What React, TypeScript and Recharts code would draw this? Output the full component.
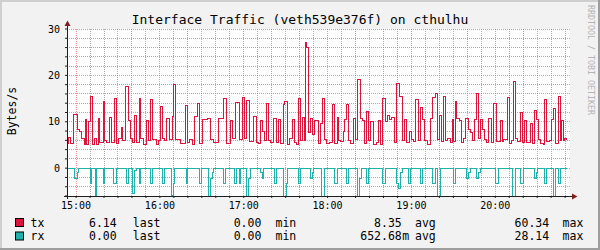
import { LineChart, Line, XAxis, YAxis, CartesianGrid } from 'recharts'

// time = minutes since 14:00, values in bytes/s (rx drawn negative)
const txTime = [
  53.5, 54.4, 56.1, 58.0, 60.9, 62.3, 64.2, 65.7, 66.6, 67.6,
  69.0, 70.5, 71.4, 73.3, 74.8, 76.2, 77.1, 79.5, 80.5, 81.9,
  83.8, 85.5, 87.2, 89.1, 90.5, 92.4, 93.4, 95.2, 97.4, 98.6,
  100.5, 101.5, 102.9, 105.3, 106.3, 108.1, 110.1, 112.0, 113.4, 114.9,
  117.2, 118.7, 120.1, 121.5, 123.0, 124.9, 127.2, 128.7, 129.6, 131.5,
  134.4, 138.0, 139.6, 141.5, 143.2, 144.9, 146.8, 148.2, 150.2, 154.0,
  155.9, 158.3, 162.1, 165.4, 167.8, 170.2, 172.1, 174.0, 176.9, 178.8,
  180.7, 182.2, 184.0, 186.9, 188.8, 190.7, 192.1, 193.6, 195.0, 196.4,
  197.4, 199.3, 201.2, 203.1, 204.9, 206.5, 208.4, 209.3, 211.2, 213.1,
  214.6, 216.0, 217.9, 219.3, 220.8, 222.2, 223.2, 224.1, 225.1, 226.5,
  228.0, 228.9, 230.3, 233.7, 235.1, 236.5, 238.0, 239.4, 241.3, 243.2,
  245.1, 247.0, 248.0, 249.4, 251.3, 252.3, 253.7, 254.7, 256.1, 258.5,
  259.9, 261.4, 263.3, 264.7, 266.1, 268.0, 269.0, 270.9, 272.8, 274.7,
  276.2, 278.1, 279.5, 281.4, 282.8, 284.3, 285.7, 287.6, 289.5, 291.4,
  293.3, 294.8, 296.7, 298.6, 300.0, 301.5, 302.9, 304.8, 306.7, 308.1,
  309.6, 311.5, 313.4, 315.3, 317.2, 318.6, 320.1, 321.5, 322.9, 324.4,
  325.8, 327.7, 329.2, 330.1, 331.3, 332.5, 334.4, 335.8, 337.3, 338.7,
  341.1, 342.5, 344.0, 345.4, 346.3, 348.3, 349.2, 350.6, 352.5, 354.0,
  355.4, 357.3, 358.8, 361.1, 363.6, 365.0, 365.9, 368.8, 370.2, 371.6,
  373.1, 374.5, 376.0, 377.9, 379.8, 381.2, 382.6, 385.0, 386.4, 387.9,
  389.3, 390.7, 392.6, 394.6, 395.5, 396.9, 398.9, 400.3, 401.7, 403.2,
  404.6, 405.5, 406.5, 407.6, 408.9, 409.8, 411.3,
]
const txValue = [
  5.3, 6.6, 5.3, 11.6, 8.4, 7.9, 6.5, 5.0, 10.5, 5.0,
  10.0, 15.5, 5.0, 6.5, 5.0, 10.8, 5.5, 14.3, 6.0, 5.5,
  11.0, 5.5, 15.0, 5.3, 6.4, 8.8, 6.0, 17.7, 10.3, 6.5,
  5.5, 11.4, 5.5, 15.0, 6.5, 5.2, 10.2, 6.0, 14.7, 6.2,
  5.0, 5.9, 13.2, 6.4, 6.0, 10.7, 6.2, 11.2, 18.1, 6.2,
  5.3, 13.5, 5.5, 6.1, 5.2, 11.2, 14.0, 5.3, 10.5, 10.8,
  6.2, 5.5, 10.8, 15.0, 5.3, 10.2, 6.4, 14.2, 6.2, 15.2,
  6.3, 14.5, 5.8, 11.1, 5.6, 5.3, 10.2, 7.8, 6.0, 14.0,
  6.0, 5.6, 10.8, 5.5, 10.5, 5.3, 13.7, 14.4, 5.0, 6.4,
  10.4, 5.5, 5.0, 15.1, 6.0, 10.9, 6.0, 27.1, 26.1, 7.6,
  10.8, 7.3, 10.2, 5.3, 9.6, 15.1, 6.2, 5.3, 5.6, 13.7,
  5.3, 10.9, 6.0, 5.7, 7.8, 10.5, 13.7, 6.0, 5.4, 10.8,
  6.1, 19.2, 10.8, 10.2, 5.4, 12.2, 6.0, 10.0, 5.1, 5.5,
  10.2, 5.2, 15.1, 10.0, 11.3, 10.5, 11.0, 5.6, 18.3, 15.5,
  6.0, 10.5, 5.5, 8.0, 6.1, 5.7, 14.9, 5.9, 13.1, 10.4,
  5.9, 5.2, 10.7, 15.2, 16.1, 6.2, 11.3, 5.8, 15.4, 5.9,
  6.3, 5.5, 10.4, 5.8, 14.3, 10.8, 10.2, 5.5, 6.4, 10.8,
  8.4, 7.6, 5.9, 10.5, 16.1, 6.3, 10.5, 8.4, 6.2, 5.5,
  10.8, 5.5, 14.0, 5.8, 10.3, 5.7, 6.2, 15.2, 5.3, 6.0,
  18.7, 6.4, 5.8, 12.0, 5.5, 10.2, 5.5, 9.6, 5.3, 12.5,
  10.4, 6.1, 5.3, 5.1, 14.8, 5.8, 6.0, 10.5, 12.8, 5.4,
  5.3, 15.5, 6.0, 10.3, 6.0, 6.4, 6.14,
]

const rxTime = [
  53.5, 59.2, 60.9, 61.9, 70.0, 70.9, 73.6, 74.8, 79.5, 80.5,
  86.7, 89.1, 95.8, 97.2, 100.1, 101.5, 102.9, 105.3, 106.3, 113.0,
  114.9, 122.0, 123.5, 128.2, 129.7, 130.6, 138.7, 139.7, 148.3, 149.7,
  155.0, 156.4, 157.3, 158.3, 165.5, 166.9, 173.1, 174.5, 176.9, 177.9,
  181.7, 183.6, 184.6, 192.1, 193.1, 194.0, 201.7, 203.6, 208.4, 210.3,
  211.2, 219.3, 220.8, 228.0, 229.4, 229.9, 235.6, 237.5, 245.1, 247.0,
  253.7, 254.7, 261.4, 262.8, 264.2, 268.0, 269.5, 279.5, 281.4, 289.5,
  291.0, 292.4, 293.8, 297.9, 299.0, 306.7, 308.1, 315.3, 317.2, 318.6,
  320.5, 330.0, 331.2, 339.7, 341.1, 342.1, 346.8, 348.3, 349.7, 360.2,
  362.1, 372.6, 374.5, 378.3, 380.2, 387.9, 389.3, 390.3, 395.5, 396.9,
  401.7, 403.2, 405.5, 406.5, 411.3,
]
const rxValue = [
  0, -2.2, -1.0, 0, -3.3, 0, -6, 0, -3.3, 0,
  -3.3, 0, -3.3, 0, -5.5, -0.6, 0, -3.3, 0, -3.3,
  0, -3.3, 0, -5.8, -3.3, 0, -3.3, 0, -3.3, 0,
  -6, -2.2, -1.0, 0, -3.3, 0, -3.3, 0, -3.3, 0,
  -6, -2.2, 0, -1.0, -2.2, 0, -3.3, 0, -6, -3.3,
  0, -3.3, 0, -2.2, -1.0, 0, -6, 0, -3.3, 0,
  -3.3, 0, -6, -2.2, 0, -3.3, 0, -3.3, 0, -3.3,
  -4.4, -1.0, 0, -3.3, 0, -3.3, 0, -3.3, 0, -6,
  0, -3.3, 0, -2.2, -1.0, 0, -2.2, -1.0, 0, -3.3,
  0, -6, 0, -3.3, 0, -2.2, -1.0, 0, -3.3, 0,
  -6, 0, -3.3, 0, 0,
]

const xTicks = [
  60, 70, 80, 90, 100, 110, 120, 130, 140, 150, 160, 170, 180, 190, 200, 210, 220, 230,
  240, 250, 260, 270, 280, 290, 300, 310, 320, 330, 340, 350, 360, 370, 380, 390, 400, 410,
]
const xMajor = [60, 90, 120, 150, 180, 210, 240, 270, 300, 330, 360, 390]
const hourTicks = [60, 120, 180, 240, 300, 360]
const hourLabels = ['15:00', '16:00', '17:00', '18:00', '19:00', '20:00']

const yTicks = [-6, -4, -2, 0, 2, 4, 6, 8, 10, 12, 14, 16, 18, 20, 22, 24, 26, 28, 30]
const yMajor = [0, 10, 20, 30]

const series = [
  { name: 'tx', color: '#dc143c', last: '6.14', min: '0.00', avg: '8.35', avgUnit: '', max: '60.34' },
  { name: 'rx', color: '#20b2aa', last: '0.00', min: '0.00', avg: '652.68', avgUnit: 'm', max: '28.14' },
]

const FONT = '"DejaVu Sans Mono", monospace'
const GRID = 'rgba(143,143,143,0.75)'
const MGRID = 'rgba(222,79,79,0.6)'
const ARROW = '#801f1f'
const AXIS = '#1f1f1f'

const txData = txTime.map((t, i) => ({ t, v: txValue[i] }))
const rxData = rxTime.map((t, i) => ({ t, v: rxValue[i] }))
const xMinor = xTicks.filter((t) => !xMajor.includes(t))
const yMinor = yTicks.filter((t) => !yMajor.includes(t))

const fmtX = (v: number) => {
  const i = hourTicks.indexOf(v)
  return i >= 0 ? hourLabels[i] : ''
}
const fmtY = (v: number) => (yMajor.includes(v) ? String(v) : '')

export default function App() {
  return (
    <div style={{ position: 'absolute', left: 0, top: 0, width: 600, height: 250, background: '#f2f2f2', fontFamily: FONT }}>
      <LineChart width={600} height={250} data={txData} margin={{ top: 29, right: 30, bottom: 34, left: 0 }}>
        <CartesianGrid
          fill="#ffffff"
          fillOpacity={1}
          stroke={GRID}
          strokeDasharray="1 1"
          shapeRendering="crispEdges"
          horizontalValues={yMinor}
          verticalValues={xMinor}
        />
        <CartesianGrid
          stroke={MGRID}
          strokeDasharray="1 1"
          shapeRendering="crispEdges"
          horizontalValues={yMajor}
          verticalValues={xMajor}
        />
        <XAxis
          dataKey="t"
          type="number"
          domain={[53.5, 413.5]}
          ticks={xTicks}
          interval={0}
          allowDataOverflow
          tickFormatter={fmtX}
          axisLine={false}
          tickLine={{ stroke: AXIS }}
          tickSize={2}
          tickMargin={4}
          height={20}
          tick={{ fontSize: 10, fill: '#000', fontFamily: FONT }}
        />
        <YAxis
          type="number"
          domain={[-6, 30]}
          ticks={yTicks}
          interval={0}
          allowDataOverflow
          tickFormatter={fmtY}
          axisLine={false}
          tickLine={{ stroke: AXIS }}
          tickSize={2}
          tickMargin={5}
          width={67}
          tick={{ fontSize: 10, fill: '#000', fontFamily: FONT }}
        />
        <Line
          data={txData}
          dataKey="v"
          type="stepAfter"
          stroke={series[0].color}
          strokeWidth={1}
          shapeRendering="crispEdges"
          dot={false}
          activeDot={false}
          isAnimationActive={false}
        />
        <Line
          data={rxData}
          dataKey="v"
          type="stepAfter"
          stroke={series[1].color}
          strokeWidth={1}
          shapeRendering="crispEdges"
          dot={false}
          activeDot={false}
          isAnimationActive={false}
        />
      </LineChart>

      <svg width={600} height={250} style={{ position: 'absolute', left: 0, top: 0, pointerEvents: 'none' }}>
        {/* frame */}
        <rect x={0} y={0} width={600} height={2} fill="#cfcfcf" />
        <rect x={0} y={0} width={2} height={250} fill="#cfcfcf" />
        <rect x={0} y={248} width={600} height={2} fill="#9e9e9e" />
        <rect x={598} y={0} width={2} height={250} fill="#9e9e9e" />

        <text x={300} y={23.5} textAnchor="middle" fontSize={13} fontFamily={FONT} fill="#000">
          Interface Traffic (veth539e376f) on cthulhu
        </text>

        <text
          transform="translate(15.5,111) rotate(-90)"
          textAnchor="middle"
          fontSize={11.5}
          fontFamily={FONT}
          fill="#000"
        >
          Bytes/s
        </text>

        <text transform="translate(588,5) rotate(90)" fontSize={8.3} fontFamily={FONT} fill="#b4b4b4">
          RRDTOOL / TOBI OETIKER
        </text>

        {/* axes with arrows */}
        <line x1={67.5} y1={25} x2={67.5} y2={199} stroke={AXIS} strokeWidth={1} />
        <line x1={64} y1={196.5} x2={573} y2={196.5} stroke={AXIS} strokeWidth={1} />
        <polygon points="64.5,26 70.5,26 67.5,20.5" fill={ARROW} />
        <polygon points="572,193.5 572,199.5 577.5,196.5" fill={ARROW} />

        {/* legend */}
        {series.map((s, i) => {
          const y = 226.5 + i * 13.5
          return (
            <g key={s.name} fontFamily={FONT} fontSize={11.5} fill="#000">
              <rect x={15.5} y={y - 8} width={8} height={8} fill={s.color} stroke="#000" strokeWidth={1} />
              <text x={30.6} y={y}>{s.name}</text>
              <text x={116.7} y={y} textAnchor="end">{s.last}</text>
              <text x={132.8} y={y}>last</text>
              <text x={261.4} y={y} textAnchor="end">{s.min}</text>
              <text x={275.5} y={y}>min</text>
              <text x={401.8} y={y} textAnchor="end">{s.avg}</text>
              <text x={402.2} y={y}>{s.avgUnit}</text>
              <text x={415} y={y}>avg</text>
              <text x={549.2} y={y} textAnchor="end">{s.max}</text>
              <text x={562.6} y={y}>max</text>
            </g>
          )
        })}
      </svg>
    </div>
  )
}
